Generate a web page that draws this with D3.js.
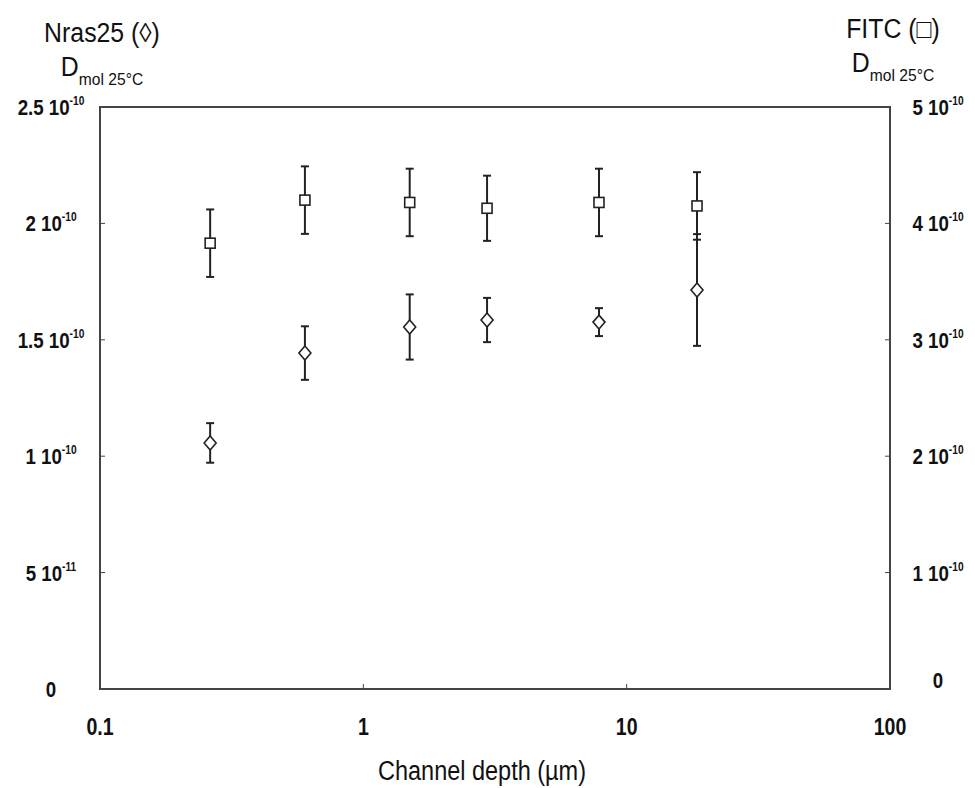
<!DOCTYPE html>
<html>
<head>
<meta charset="utf-8">
<script src="https://cdn.jsdelivr.net/npm/d3@7"></script>
<style>
  body { margin: 0; background: #fff; }
  text { font-family: "Liberation Sans", Arial, sans-serif; fill: #111; }
</style>
</head>
<body>
<div id="chart"></div>
<script>
var svgWidth = 975;
var svgHeight = 788;

var margin = { top: 107, right: 85, bottom: 99, left: 100 };
var width = svgWidth - margin.left - margin.right;
var height = svgHeight - margin.top - margin.bottom;

// channel depth (um)
var depth = [0.262, 0.60, 1.5, 2.95, 7.85, 18.5];
// Nras25 diffusion coefficient (left axis)
var nras = [1.057e-10, 1.443e-10, 1.555e-10, 1.585e-10, 1.576e-10, 1.714e-10];
var nrasErr = [0.085e-10, 0.115e-10, 0.14e-10, 0.095e-10, 0.06e-10, 0.24e-10];
// FITC diffusion coefficient (right axis)
var fitc = [3.83e-10, 4.20e-10, 4.18e-10, 4.13e-10, 4.18e-10, 4.15e-10];
var fitcErr = [0.29e-10, 0.29e-10, 0.29e-10, 0.28e-10, 0.29e-10, 0.29e-10];

var xTicks = [0.1, 1, 10, 100];
var xTickLabels = ["0.1", "1", "10", "100"];
var leftTicks = [0, 5e-11, 1e-10, 1.5e-10, 2e-10, 2.5e-10];
var leftTickLabels = [["0", ""], ["5 10", "-11"], ["1 10", "-10"], ["1.5 10", "-10"], ["2 10", "-10"], ["2.5 10", "-10"]];
var rightTicks = [0, 1e-10, 2e-10, 3e-10, 4e-10, 5e-10];
var rightTickLabels = [["0", ""], ["1 10", "-10"], ["2 10", "-10"], ["3 10", "-10"], ["4 10", "-10"], ["5 10", "-10"]];

var svg = d3.select("#chart")
  .append("svg")
  .attr("width", svgWidth)
  .attr("height", svgHeight);

var g = svg.append("g")
  .attr("transform", "translate(" + margin.left + "," + margin.top + ")");

var x = d3.scaleLog().domain([0.1, 100]).range([0, width]);
var yL = d3.scaleLinear().domain([0, 2.5e-10]).range([height, 0]);
var yR = d3.scaleLinear().domain([0, 5e-10]).range([height, 0]);

// narrow-looking text: scale horizontally around the anchor point
function place(px, py, sx) {
  return "translate(" + px + "," + py + ") scale(" + sx + ",1)";
}

// frame
g.append("rect")
  .attr("width", width)
  .attr("height", height)
  .attr("fill", "none")
  .attr("stroke", "#444")
  .attr("stroke-width", 2);

// inward ticks
g.append("g").selectAll("line")
  .data(leftTicks.slice(1, -1))
  .enter().append("line")
  .attr("x1", 0).attr("x2", 5)
  .attr("y1", d => yL(d)).attr("y2", d => yL(d))
  .attr("stroke", "#444");
g.append("g").selectAll("line")
  .data(rightTicks.slice(1, -1))
  .enter().append("line")
  .attr("x1", width - 5).attr("x2", width)
  .attr("y1", d => yR(d)).attr("y2", d => yR(d))
  .attr("stroke", "#444");
g.append("g").selectAll("line")
  .data(xTicks.slice(1, -1))
  .enter().append("line")
  .attr("x1", d => x(d)).attr("x2", d => x(d))
  .attr("y1", height).attr("y2", height - 5)
  .attr("stroke", "#444");

// tick labels
function sciLabel(sel, lab) {
  sel.append("tspan").text(lab[0]);
  if (lab[1]) {
    sel.append("tspan").attr("dy", -10).attr("font-size", 12).text(lab[1]);
  }
}
g.append("g").selectAll("text")
  .data(leftTicks)
  .enter().append("text")
  .attr("transform", d => place(-49, yL(d) + 8, 0.85))
  .attr("text-anchor", "middle")
  .attr("font-size", 22)
  .attr("font-weight", "bold")
  .each(function(d, i) { sciLabel(d3.select(this), leftTickLabels[i]); });
g.append("g").selectAll("text")
  .data(rightTicks)
  .enter().append("text")
  .attr("transform", d => place(width + 48, yR(d) + (d === 0 ? -1 : 8), 0.85))
  .attr("text-anchor", "middle")
  .attr("font-size", 22)
  .attr("font-weight", "bold")
  .each(function(d, i) { sciLabel(d3.select(this), rightTickLabels[i]); });
g.append("g").selectAll("text")
  .data(xTicks)
  .enter().append("text")
  .attr("transform", d => place(x(d), height + 46, 0.85))
  .attr("text-anchor", "middle")
  .attr("font-size", 23)
  .attr("font-weight", "bold")
  .text((d, i) => xTickLabels[i]);

// axis title
svg.append("text")
  .attr("transform", place(482, 780, 0.87))
  .attr("text-anchor", "middle")
  .attr("font-size", 27)
  .text("Channel depth (\u00b5m)");

function yTitle(cx, y1, name, subSize) {
  svg.append("text")
    .attr("transform", place(cx, y1, 0.92))
    .attr("text-anchor", "middle")
    .attr("font-size", 27)
    .text(name);
  var t = svg.append("text")
    .attr("transform", place(cx, y1 + 34, 0.92))
    .attr("text-anchor", "middle")
    .attr("font-size", 27);
  t.append("tspan").text("D");
  t.append("tspan").attr("dy", 9).attr("font-size", subSize).text("mol 25\u00b0C");
}
yTitle(102, 42, "Nras25 (\u25ca)", 17);
yTitle(893, 38, "FITC (\u25a1)", 17);

// error bars
function errorBars(vals, errs, y) {
  var eg = g.append("g");
  eg.selectAll("line.v").data(vals).enter().append("line")
    .attr("x1", (d, i) => x(depth[i])).attr("x2", (d, i) => x(depth[i]))
    .attr("y1", (d, i) => y(d - errs[i])).attr("y2", (d, i) => y(d + errs[i]))
    .attr("stroke", "#222").attr("stroke-width", 2);
  [-1, 1].forEach(function(s) {
    eg.selectAll("line.c" + s).data(vals).enter().append("line")
      .attr("x1", (d, i) => x(depth[i]) - 4).attr("x2", (d, i) => x(depth[i]) + 4)
      .attr("y1", (d, i) => y(d + s * errs[i])).attr("y2", (d, i) => y(d + s * errs[i]))
      .attr("stroke", "#222").attr("stroke-width", 2);
  });
}
errorBars(fitc, fitcErr, yR);
errorBars(nras, nrasErr, yL);

// markers
g.append("g").selectAll("rect")
  .data(fitc)
  .enter().append("rect")
  .attr("x", (d, i) => x(depth[i]) - 5)
  .attr("y", d => yR(d) - 5)
  .attr("width", 10).attr("height", 10)
  .attr("fill", "#fff").attr("stroke", "#222").attr("stroke-width", 1.6);
g.append("g").selectAll("path")
  .data(nras)
  .enter().append("path")
  .attr("transform", (d, i) => "translate(" + x(depth[i]) + "," + yL(d) + ")")
  .attr("d", "M0,-7L6,0L0,7L-6,0Z")
  .attr("fill", "#fff").attr("stroke", "#222").attr("stroke-width", 1.6);
</script>
</body>
</html>
